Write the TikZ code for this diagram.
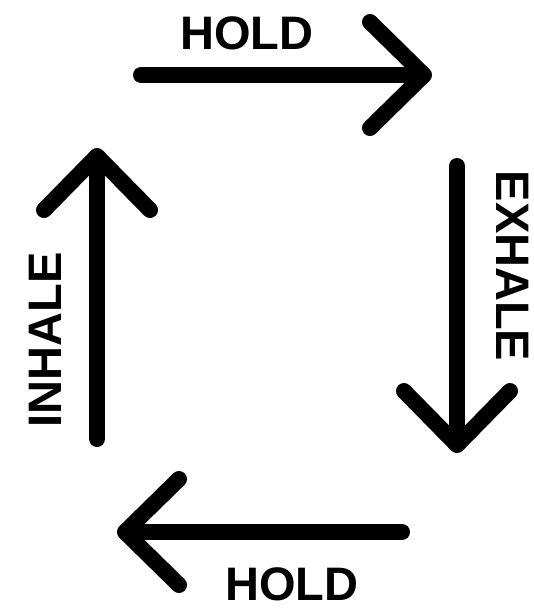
\documentclass[tikz,border=0pt]{standalone}
\usepackage{fontspec}
\setmainfont{Liberation Sans}
\usepackage{tikz}
\usetikzlibrary{arrows.meta, positioning}
\tikzset{
    breath/.style={-{Straight Barb[length=54pt, width=106pt, round]}, line width=16pt, line cap=round, line join=round},
    phase/.style={font=\fontsize{47}{56}\selectfont\bfseries, inner sep=0pt},
}

\begin{document}
\begin{tikzpicture}[x=1pt, y=-1pt]
        \useasboundingbox (0,0) rectangle (534,611);

        % Labels
        \node[phase] (holdtop) at (247,33) {HOLD};
        \node[phase, rotate=-90] (exhale) at (513,266) {EXHALE};
        \node[phase] (holdbottom) at (292,584) {HOLD};
        \node[phase, rotate=90] (inhale) at (45,340) {INHALE};

        % Arrow ends
        \coordinate (topstart) at (141,75);
        \coordinate (topend) at (432,75);
        \coordinate (rightstart) at (457,166);
        \coordinate (rightend) at (457,453);
        \coordinate (bottomstart) at (402,532);
        \coordinate (bottomend) at (117,532);
        \coordinate (leftstart) at (97,439);
        \coordinate (leftend) at (97,148);

        % Arrows
        \draw[breath] (topstart) -- (topend);
        \draw[breath] (rightstart) -- (rightend);
        \draw[breath] (bottomstart) -- (bottomend);
        \draw[breath] (leftstart) -- (leftend);
    \end{tikzpicture}
\end{document}
